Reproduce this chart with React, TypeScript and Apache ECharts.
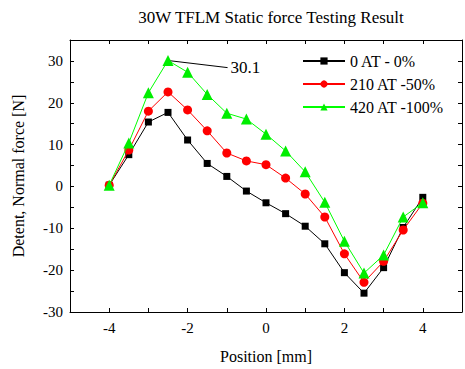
import React, { useEffect, useRef } from "react";
import * as echarts from "echarts";

const positions = [-4, -3.5, -3, -2.5, -2, -1.5, -1, -0.5, 0, 0.5, 1, 1.5, 2, 2.5, 3, 3.5, 4];
const at0 = [0.3, 7.6, 15.4, 17.7, 11.1, 5.5, 2.4, -1.1, -3.9, -6.5, -9.5, -13.7, -20.6, -25.5, -19.4, -9.8, -2.6];
const at210 = [0.3, 8.7, 18.0, 22.6, 18.3, 13.3, 8.0, 6.1, 5.2, 2.0, -1.8, -7.3, -16.1, -22.9, -17.9, -10.4, -4.0];
const at420 = [0.3, 10.4, 22.4, 30.1, 27.3, 22.0, 17.5, 16.1, 12.5, 8.5, 3.5, -3.8, -13.1, -20.7, -16.4, -7.3, -3.9];
const seriesNames = ["0 AT - 0%", "210 AT -50%", "420 AT -100%"];
const peakLabel = "30.1";

const FONT = "Liberation Serif";

export default function App() {
  const ref = useRef<HTMLDivElement>(null);
  useEffect(() => {
    if (!ref.current) return;
    const chart = echarts.init(ref.current, null, { renderer: "svg" });
    const pair = (ys: number[]) => positions.map((x, i) => [x, ys[i]]);
    const axisCommon = {
      axisLine: { show: true, onZero: false, lineStyle: { color: "#000", width: 1 } },
      axisTick: { show: true, inside: true, length: 4, lineStyle: { color: "#000" } },
      splitLine: { show: false },
    };
    chart.setOption({
      animation: false,
      backgroundColor: "#fff",
      textStyle: { fontFamily: FONT },
      title: {
        text: "30W TFLM Static force Testing Result",
        left: 266,
        textAlign: "center",
        top: 4,
        textStyle: { fontFamily: FONT, fontSize: 17, fontWeight: "normal", color: "#000" },
      },
      legend: {
        orient: "vertical",
        left: 297,
        top: 48,
        itemWidth: 42,
        itemHeight: 9,
        itemGap: 7,
        data: seriesNames,
        textStyle: { fontFamily: FONT, fontSize: 16, color: "#000" },
      },
      grid: { left: 70, right: 2, top: 40, bottom: 54 },
      xAxis: [
        {
          type: "value",
          min: -5,
          max: 5,
          interval: 1,
          position: "bottom",
          ...axisCommon,
          axisLabel: {
            color: "#000",
            fontFamily: FONT,
            fontSize: 15,
            margin: 8,
            formatter: (v: number) => (v % 2 === 0 ? String(v) : ""),
          },
          name: "Position [mm]",
          nameLocation: "middle",
          nameGap: 36,
          nameTextStyle: { fontFamily: FONT, fontSize: 16, color: "#000" },
        },
        {
          type: "value",
          min: -5,
          max: 5,
          interval: 1,
          position: "top",
          ...axisCommon,
          axisLabel: { show: false },
        },
      ],
      yAxis: [
        {
          type: "value",
          min: -30,
          max: 35,
          interval: 5,
          position: "left",
          ...axisCommon,
          axisLabel: {
            color: "#000",
            fontFamily: FONT,
            fontSize: 15,
            margin: 7,
            formatter: (v: number) => (v % 10 === 0 ? String(v) : ""),
          },
          name: "Detent, Normal force [N]",
          nameLocation: "middle",
          nameGap: 44,
          nameTextStyle: { fontFamily: FONT, fontSize: 16, color: "#000" },
        },
        {
          type: "value",
          min: -30,
          max: 35,
          interval: 5,
          position: "right",
          ...axisCommon,
          axisLabel: { show: false },
        },
      ],
      series: [
        {
          name: seriesNames[0],
          type: "line",
          data: pair(at0),
          symbol: "rect",
          symbolSize: 7,
          color: "#000",
          lineStyle: { width: 1, color: "#000" },
          itemStyle: { color: "#000" },
          z: 3,
        },
        {
          name: seriesNames[1],
          type: "line",
          data: pair(at210),
          symbol: "circle",
          symbolSize: 9,
          color: "#ff0000",
          lineStyle: { width: 1, color: "#ff0000" },
          itemStyle: { color: "#ff0000" },
          z: 4,
        },
        {
          name: seriesNames[2],
          type: "line",
          data: pair(at420),
          symbol: "triangle",
          symbolSize: 11,
          color: "#00ee00",
          lineStyle: { width: 1, color: "#00ff00" },
          itemStyle: { color: "#00ee00" },
          z: 5,
          markLine: {
            silent: true,
            symbol: ["none", "none"],
            lineStyle: { color: "#000", width: 1, type: "solid" },
            label: {
              show: true,
              position: "end",
              formatter: peakLabel,
              color: "#000",
              fontFamily: FONT,
              fontSize: 17,
              distance: 3,
            },
            data: [[{ coord: [-2.5, 30.1] }, { coord: [-0.98, 28.4] }]],
          },
        },
      ],
    });
    return () => chart.dispose();
  }, []);
  return <div ref={ref} style={{ position: "fixed", left: 0, top: 0, width: 465, height: 369 }} />;
}
